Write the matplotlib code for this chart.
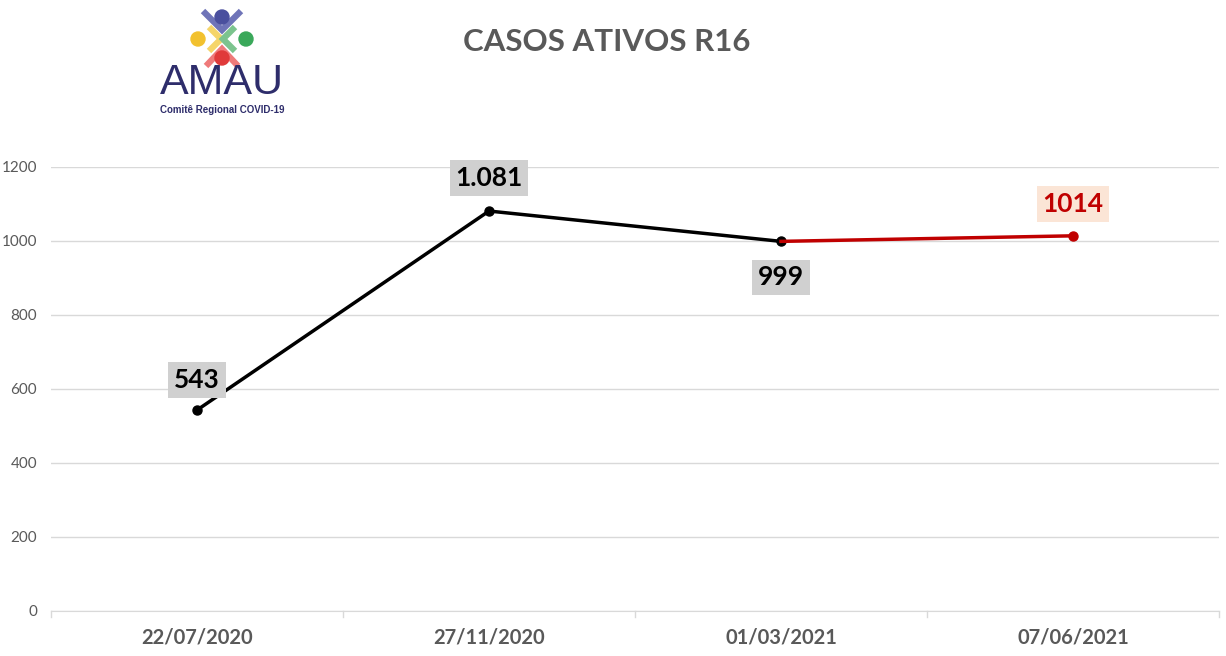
import numpy as np
import matplotlib.pyplot as plt

datas = ["22/07/2020", "27/11/2020", "01/03/2021", "07/06/2021"]
casos = [543, 1081, 999, 1014]
rotulos = ["543", "1.081", "999", "1014"]

W, H = 1226, 656
fig = plt.figure(figsize=(W / 100, H / 100), dpi=100)
plt.rcParams['font.family'] = ['Lato', 'DejaVu Sans']

# eixo principal, posicionado em pixels
ax = fig.add_axes([51 / W, 1 - 611 / H, (1219 - 51) / W, (611 - 167) / H])
x = np.arange(len(datas))

ax.plot(x[:3], casos[:3], color="black", lw=2.5, marker="o", ms=6.5, zorder=3)
ax.plot(x[2:], casos[2:], color="#c00000", lw=2.5, zorder=3)
ax.plot(x[3], casos[3], color="#c00000", marker="o", ms=6.5, zorder=4)

deslocamento = [30, 33, -36, 32]
for i in range(len(casos)):
    if i == 3:
        cor_txt, cor_caixa = "#c00000", "#fbe5d6"
    else:
        cor_txt, cor_caixa = "black", "#d0d0d0"
    ax.annotate(rotulos[i], (x[i], casos[i]), xytext=(0, deslocamento[i] * 0.72),
                textcoords="offset points", ha="center", va="center",
                fontsize=19, fontweight="bold", color=cor_txt,
                bbox=dict(boxstyle="square,pad=0.22", fc=cor_caixa, ec="none"), zorder=5)

ax.set_xlim(-0.5, 3.5)
ax.set_ylim(0, 1200)
ax.set_yticks(range(0, 1201, 200))
ax.grid(axis="y", color="#d9d9d9", lw=1)
ax.set_axisbelow(True)
for s in ["top", "right", "left"]:
    ax.spines[s].set_visible(False)
ax.spines["bottom"].set_color("#d9d9d9")
ax.tick_params(axis="y", length=0, pad=10, labelsize=11, labelcolor="#595959")
ax.set_xticks(x)
ax.set_xticklabels(datas, fontsize=14.5, fontweight="bold", color="#595959")
ax.tick_params(axis="x", length=0, pad=12)
# pequenos traços entre categorias
for b in np.arange(-0.5, 3.6, 1):
    ax.plot([b, b], [0, -15], color="#d9d9d9", lw=1, clip_on=False)

fig.text(607 / W, 1 - 42 / H, "CASOS ATIVOS R16", ha="center", va="center",
         fontsize=22.5, fontweight="bold", color="#595959")

# logo AMAU
lg = fig.add_axes([140 / W, 1 - 125 / H, 170 / W, 125 / H])
lg.set_xlim(140, 310)
lg.set_ylim(125, 0)
lg.axis("off")
circulos = [(222, 17, "#4a4f9e"), (198, 39, "#f2c12e"), (246, 39, "#3aa85a"), (222, 58, "#e03a3a")]
for px, py, c in circulos:
    lg.add_patch(plt.Circle((px, py), 7, color=c, zorder=3))
bracos = [((203, 11), (222, 30), (241, 11), "#6f74b8"),
          ((209, 27), (221, 39), (209, 51), "#f5d56a"),
          ((235, 27), (223, 39), (235, 51), "#7cc48e"),
          ((206, 66), (222, 49), (238, 66), "#ef7a7a")]
for a, b, c, cor in bracos:
    lg.plot([a[0], b[0], c[0]], [a[1], b[1], c[1]], color=cor, lw=4.5,
            solid_capstyle="butt", solid_joinstyle="miter")
lg.text(222, 83, "AMAU", ha="center", va="center", fontsize=31, color="#2e2d6b",
        family=["Liberation Sans", "DejaVu Sans"])
lg.text(222, 110, "Comitê Regional COVID-19", ha="center", va="center", fontsize=7,
        fontweight="bold", color="#2e2d6b", family=["Liberation Sans", "DejaVu Sans"])

fig.savefig("out.png", dpi=100)
